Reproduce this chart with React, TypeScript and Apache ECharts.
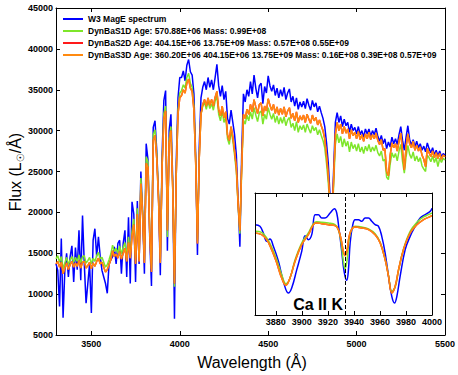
import React, { useEffect, useRef } from "react";
import * as echarts from "echarts";

// ---- main spectrum: sampled every 10 Å from 3300 Å to 5500 Å ----
const WAVE_START = 3300;
const WAVE_STEP = 10;

// W3 MagE spectrum (blue)
const w3Flux = [
  13700, 12900, 8500, 16800, 7100, 12900, 15000, 12100, 14600, 15900,
  11500, 15700, 13000, 17800, 11700, 19600, 13700, 8900, 11300, 13700,
  7700, 16600, 18000, 14600, 17000, 14600, 12900, 12100, 11300, 10100,
  13700, 14200, 14600, 15800, 13700, 16200, 16600, 12500, 16200, 17800,
  12100, 19400, 11300, 21300, 19800, 11500, 21400, 13700, 25000, 20000,
  12500, 28400, 26500, 17000, 11000, 30400, 31200, 27500, 22000, 12300,
  27000, 33700, 34900, 15300, 30000, 32000, 24000, 7000, 26000, 34000,
  36500, 36500, 37300, 36100, 38000, 38700, 37200, 36800, 34500, 27000,
  14800, 28000, 34000, 35300, 36000, 35000, 36500, 35300, 36200, 35000,
  36500, 38100, 35500, 34200, 35500, 33800, 34800, 31500, 30800, 32500,
  31000, 29500, 27000, 21500, 15800, 27000, 34500, 33500, 35000, 34200,
  36000, 34500, 36800, 35200, 34000, 35500, 35800, 33300, 35400, 34600,
  36700, 35500, 34800, 35600, 34300, 35200, 34000, 35000, 34200, 35300,
  33800, 34600, 35100, 33500, 34200, 33000, 34000, 32600, 33500, 32900,
  33600, 32700, 33900, 33100, 32500, 33700, 32900, 33400, 32300, 33000,
  32200, 31500, 30500, 28500, 26000, 22000, 19500, 25000, 31000, 32200,
  31000, 31800, 30500, 31400, 30600, 31000, 29800, 30800, 30000, 30400,
  29600, 30500, 29500, 30000, 29200, 30200, 29600, 30200, 29300, 30000,
  29500, 30300, 29300, 28700, 29400, 28400, 29000, 27800, 28600, 28000,
  29200, 28400, 29000, 28300, 29500, 30500, 28800, 27600, 29200, 30600,
  28900, 28200, 28900, 28000, 28700, 27900, 28400, 27600, 28100, 27400,
  28500, 27800, 27300, 27900, 27000, 27600, 26900, 27500, 26800, 27200,
  27000,
];

// DynBaS1D model (green)
const s1dFlux = [
  14300, 14700, 13900, 14600, 13100, 13800, 14500, 13600, 14200, 14600,
  13900, 14500, 14000, 14800, 13800, 14600, 14700, 13800, 14100, 14500,
  13700, 14400, 14000, 14700, 15100, 14300, 14500, 13900, 13300, 13600,
  14200, 14900, 16000, 15200, 15600, 15000, 15900, 14900, 15700, 16300,
  14600, 17000, 15000, 17700, 19200, 14200, 20500, 14500, 24200, 20000,
  14200, 26800, 26200, 18000, 13100, 29500, 30100, 27100, 22000, 14300,
  26000, 32100, 33000, 17000, 29000, 30500, 23300, 10900, 24800, 32500,
  34600, 34900, 35600, 35200, 36500, 37000, 35800, 35300, 33000, 26300,
  16600, 26700, 32000, 33000, 33500, 32600, 33600, 32700, 33300, 32500,
  33600, 34200, 32000, 31200, 32400, 31000, 31700, 29000, 28300, 29900,
  28800, 27000, 25000, 20800, 17400, 25000, 31300, 30800, 31900, 31200,
  32300, 31400, 32800, 31900, 31100, 32200, 32400, 30800, 32000, 31400,
  32800, 32000, 31400, 32100, 31000, 31800, 30800, 31600, 30900, 31700,
  30600, 31300, 31600, 30400, 30900, 30000, 31100, 29800, 30600, 30100,
  30700, 29800, 30800, 30200, 29700, 30600, 30000, 30400, 29500, 30100,
  29400, 28800, 27900, 26000, 23600, 20300, 18000, 23200, 28300, 29600,
  28500, 29300, 28000, 29000, 28100, 28700, 27400, 28600, 27800, 28300,
  27500, 28400, 27400, 28000, 27200, 28100, 27500, 28300, 27400, 28000,
  27500, 28200, 27300, 26900, 27500, 26300, 26500, 24300, 24000, 25900,
  27300, 26700, 27200, 26300, 27500, 28300, 26200, 24800, 26800, 28200,
  27100, 26600, 27400, 26300, 26900, 26200, 26700, 25700, 25300, 25000,
  27000, 26700, 26200, 26900, 26100, 26700, 25600, 26600, 26100, 26600,
  26400,
];

// DynBaS3D model (orange)
const s3dFlux = [
  13700, 14000, 13300, 13900, 12500, 13200, 13800, 13000, 13600, 14000,
  13300, 13800, 13400, 14100, 13200, 13900, 14000, 13200, 13500, 13900,
  13100, 13800, 13400, 14000, 14400, 13700, 13900, 13300, 12700, 13000,
  13600, 14200, 15300, 14600, 14900, 14400, 15200, 14300, 15000, 15600,
  14000, 16300, 14400, 17000, 18500, 13700, 19800, 14000, 23500, 19500,
  13800, 26000, 25500, 17500, 12700, 28800, 29400, 26500, 21500, 13800,
  25500, 31400, 32400, 17800, 28500, 30000, 23000, 11300, 24500, 32000,
  34000, 34300, 35000, 34600, 35800, 36300, 35200, 34800, 32500, 26000,
  16200, 26500, 32000, 33200, 33800, 33000, 34000, 33100, 33800, 33000,
  34100, 34800, 32600, 31800, 33000, 31600, 32300, 29500, 28800, 30500,
  29300, 27500, 25500, 21000, 17800, 25500, 32000, 31500, 32600, 32000,
  33200, 32300, 33800, 32900, 32100, 33200, 33400, 31800, 33000, 32400,
  33900, 33100, 32500, 33200, 32100, 32900, 31900, 32700, 32000, 32900,
  31700, 32400, 32800, 31500, 32100, 31200, 32300, 31000, 31800, 31300,
  31900, 31000, 32000, 31400, 30900, 31900, 31200, 31600, 30700, 31300,
  30600, 30000, 29000, 27000, 24500, 21000, 18500, 24000, 29500, 31000,
  30000, 30800, 29600, 30500, 29700, 30200, 29000, 30100, 29400, 29800,
  29000, 29900, 28900, 29500, 28700, 29600, 29000, 29800, 28900, 29500,
  29000, 29700, 28800, 28300, 28900, 27600, 27800, 25000, 24500, 27000,
  28500, 27900, 28400, 27500, 28700, 29700, 27500, 25200, 28000, 29600,
  28400, 27900, 28700, 27600, 28200, 27500, 28000, 27000, 26500, 25600,
  27800, 27300, 26800, 27500, 26700, 27300, 26600, 27200, 26500, 27000,
  26800,
];

// DynBaS2D model (red) lies exactly underneath the orange curve in the picture
const s2dFlux = s3dFlux;

// ---- inset (smoothed spectra around Ca II H & K) ----
const insetW3Wave = [
  3864, 3867.8, 3870.4, 3873, 3875.5, 3878.1, 3882, 3885.8, 3889.6, 3892.2,
  3896.1, 3899.9, 3902.5, 3905, 3907.6, 3910.2, 3912.7, 3915.3, 3917.8, 3921.7,
  3925, 3926.8, 3928.6, 3930.2, 3931.9, 3933.2, 3934.5, 3935.8, 3937.1, 3938.9,
  3940.9, 3943.5, 3946.1, 3948.6, 3951.2, 3953.7, 3956.3, 3958.9, 3961.4, 3964,
  3966.6, 3969.1, 3971.2, 3973, 3975.5, 3979.4, 3983.2, 3987.1, 3990.9, 3994.8,
  3998.6, 4000,
];
const insetW3Flux = [
  31690, 31260, 29510, 27320, 27940, 26010, 22080, 16830, 13770, 15080,
  19890, 24700, 28810, 27760, 29070, 34320, 34320, 33440, 33440, 34750,
  35890, 34750, 30380, 26010, 20770, 18140, 17090, 19890, 26890, 31260,
  33010, 33010, 32570, 33440, 33440, 32570, 31690, 31260, 28630, 24260,
  18140, 12900, 11150, 12900, 18140, 25140, 28630, 31260, 33440, 34320,
  35190, 36000,
];
const insetModelWave = [
  3864, 3869.1, 3873, 3876.8, 3880.7, 3884.5, 3887.8, 3890.9, 3894.8, 3899.9,
  3905, 3908.9, 3911.4, 3915.3, 3920.4, 3925.5, 3928.1, 3930.2, 3931.9, 3933.2,
  3934.8, 3936.3, 3938.4, 3940.9, 3946.1, 3951.2, 3956.3, 3960.2, 3964, 3966.6,
  3969.1, 3971.7, 3974.3, 3978.1, 3983.2, 3988.4, 3993.5, 3997.3, 4000,
];
const insetS1dFlux = [
  29950, 29680, 28200, 25840, 22510, 18580, 16220, 17710, 22510, 26890,
  29510, 31960, 32480, 32310, 32130, 31690, 30380, 26890, 22080, 20070,
  22510, 27760, 30560, 31260, 31080, 30560, 29330, 27060, 22690, 18320,
  14210, 15350, 19720, 25310, 29950, 32310, 33710, 34320, 34750,
];
const insetS3dFlux = [
  29510, 29070, 27760, 25140, 21640, 17710, 15780, 17710, 22080, 26450,
  29070, 31690, 32130, 31960, 31690, 31430, 30380, 27760, 24700, 23560,
  25140, 28630, 30560, 31080, 30820, 30380, 29070, 26890, 22510, 18140,
  13770, 15520, 19890, 25140, 29510, 31690, 33010, 33620, 34050,
];
const insetS2dFlux = insetS3dFlux;

const mainXTicks = [3500, 4000, 4500, 5000, 5500];
const insetXTicks = [3880, 3900, 3920, 3940, 3960, 3980, 4000];
const CA_II_K = 3933.7;

const seriesNames = [
  "W3 MagE spectrum",
  "DynBaS1D Age: 570.88E+06 Mass: 0.99E+08",
  "DynBaS2D Age: 404.15E+06 13.75E+09 Mass: 0.57E+08 0.55E+09",
  "DynBaS3D Age: 360.20E+06 404.15E+06 13.75E+09 Mass: 0.16E+08 0.39E+08 0.57E+09",
];
const seriesColors = ["#0000ff", "#7ee62a", "#ff1a1a", "#ff8a10"];

const FONT = "'Liberation Sans', Arial, Helvetica, sans-serif";

const mainWave = w3Flux.map((_, i) => WAVE_START + i * WAVE_STEP);
const pairs = (xs: number[], ys: number[]) => xs.map((x, i) => [x, ys[i]]);

export default function App() {
  const ref = useRef<HTMLDivElement>(null);

  useEffect(() => {
    if (!ref.current) return;
    const chart = echarts.init(ref.current, undefined, { renderer: "svg" });

    const tickLabel = {
      color: "#000",
      fontSize: 9,
      fontWeight: "bold" as const,
      fontFamily: FONT,
    };
    const frameLine = { show: true, lineStyle: { color: "#000", width: 1 } };

    const mainFluxes = [w3Flux, s1dFlux, s2dFlux, s3dFlux];
    const insetData = [
      pairs(insetW3Wave, insetW3Flux),
      pairs(insetModelWave, insetS1dFlux),
      pairs(insetModelWave, insetS2dFlux),
      pairs(insetModelWave, insetS3dFlux),
    ];

    const mainSeries = mainFluxes.map((f, k) => ({
      name: seriesNames[k],
      type: "line",
      xAxisIndex: 0,
      yAxisIndex: 0,
      data: pairs(mainWave, f),
      showSymbol: false,
      symbol: "none",
      lineStyle: { color: seriesColors[k], width: 1.5 },
      itemStyle: { color: seriesColors[k] },
      z: 2,
    }));

    const insetSeries = insetData.map((d, k) => ({
      name: "inset-" + k,
      type: "line",
      xAxisIndex: 2,
      yAxisIndex: 2,
      data: d,
      smooth: 0.4,
      showSymbol: false,
      symbol: "none",
      lineStyle: { color: seriesColors[k], width: 1.5 },
      itemStyle: { color: seriesColors[k] },
      z: 12,
      ...(k === 0
        ? {
            markLine: {
              silent: true,
              symbol: "none",
              label: { show: false },
              lineStyle: { color: "#000", width: 1, type: [4, 2] },
              data: [{ xAxis: CA_II_K }],
              z: 13,
            },
          }
        : {}),
    }));

    chart.setOption({
      animation: false,
      backgroundColor: "#fff",
      grid: [
        { left: 56, top: 8, width: 391, height: 327, show: false },
        {
          left: 255,
          top: 193,
          width: 177,
          height: 122,
          show: true,
          backgroundColor: "#fff",
          borderWidth: 0,
          z: 10,
        },
      ],
      legend: {
        data: seriesNames,
        orient: "vertical",
        left: 63,
        top: 13,
        padding: 0,
        itemGap: 0,
        itemWidth: 20,
        itemHeight: 2,
        icon: "rect",
        textStyle: {
          color: "#000",
          fontSize: 8.5,
          fontWeight: "bold",
          fontFamily: FONT,
          lineHeight: 12,
        },
        z: 20,
      },
      xAxis: [
        {
          type: "value",
          gridIndex: 0,
          min: 3300,
          max: 5500,
          position: "bottom",
          axisLine: frameLine,
          axisTick: { show: true, inside: true, length: 4, customValues: mainXTicks, lineStyle: { color: "#000" } },
          axisLabel: { ...tickLabel, margin: 4, customValues: mainXTicks, formatter: (v: number) => String(v) },
          splitLine: { show: false },
        },
        {
          type: "value",
          gridIndex: 0,
          min: 3300,
          max: 5500,
          position: "top",
          axisLine: frameLine,
          axisTick: { show: true, inside: true, length: 4, customValues: mainXTicks, lineStyle: { color: "#000" } },
          axisLabel: { show: false },
          splitLine: { show: false },
        },
        {
          type: "value",
          gridIndex: 1,
          min: 3864,
          max: 4000,
          position: "bottom",
          z: 14,
          axisLine: frameLine,
          axisTick: { show: true, inside: true, length: 4, customValues: insetXTicks, lineStyle: { color: "#000" } },
          axisLabel: { ...tickLabel, margin: 2, customValues: insetXTicks, formatter: (v: number) => String(v) },
          splitLine: { show: false },
        },
        {
          type: "value",
          gridIndex: 1,
          min: 3864,
          max: 4000,
          position: "top",
          z: 14,
          axisLine: frameLine,
          axisTick: { show: true, inside: true, length: 4, customValues: insetXTicks, lineStyle: { color: "#000" } },
          axisLabel: { show: false },
          splitLine: { show: false },
        },
      ],
      yAxis: [
        {
          type: "value",
          gridIndex: 0,
          min: 5000,
          max: 45000,
          interval: 5000,
          position: "left",
          axisLine: frameLine,
          axisTick: { show: true, inside: true, length: 4, lineStyle: { color: "#000" } },
          axisLabel: { ...tickLabel, margin: 3, formatter: (v: number) => String(v) },
          splitLine: { show: false },
        },
        {
          type: "value",
          gridIndex: 0,
          min: 5000,
          max: 45000,
          interval: 5000,
          position: "right",
          axisLine: frameLine,
          axisTick: { show: true, inside: true, length: 4, lineStyle: { color: "#000" } },
          axisLabel: { show: false },
          splitLine: { show: false },
        },
        {
          type: "value",
          gridIndex: 1,
          min: 8000,
          max: 40000,
          position: "left",
          z: 14,
          axisLine: frameLine,
          axisTick: { show: false },
          axisLabel: { show: false },
          splitLine: { show: false },
        },
        {
          type: "value",
          gridIndex: 1,
          min: 8000,
          max: 40000,
          position: "right",
          z: 14,
          axisLine: frameLine,
          axisTick: { show: false },
          axisLabel: { show: false },
          splitLine: { show: false },
        },
      ],
      series: [...mainSeries, ...insetSeries],
      graphic: [
        {
          type: "text",
          x: 252,
          y: 362,
          z: 30,
          style: {
            text: "Wavelength (Å)",
            fill: "#000",
            fontSize: 16,
            fontFamily: FONT,
            align: "center",
            verticalAlign: "middle",
          },
        },
        {
          type: "text",
          x: 15,
          y: 172,
          rotation: Math.PI / 2,
          z: 30,
          style: {
            text: "{a|Flux (L}{s|☉}{a|/Å)}",
            fill: "#000",
            align: "center",
            verticalAlign: "middle",
            rich: {
              a: { fontSize: 16, fontFamily: FONT, lineHeight: 20, verticalAlign: "middle" },
              s: { fontSize: 10, fontFamily: "DejaVu Sans, " + FONT, lineHeight: 10, verticalAlign: "bottom" },
            },
          },
        },
        {
          type: "text",
          x: 343,
          y: 304,
          z: 30,
          style: {
            text: "Ca II K",
            fill: "#000",
            fontSize: 16,
            fontWeight: "bold",
            fontFamily: FONT,
            align: "right",
            verticalAlign: "middle",
          },
        },
      ],
    });

    return () => chart.dispose();
  }, []);

  return (
    <div
      ref={ref}
      style={{ position: "fixed", left: 0, top: 0, width: 458, height: 375, background: "#fff" }}
    />
  );
}
